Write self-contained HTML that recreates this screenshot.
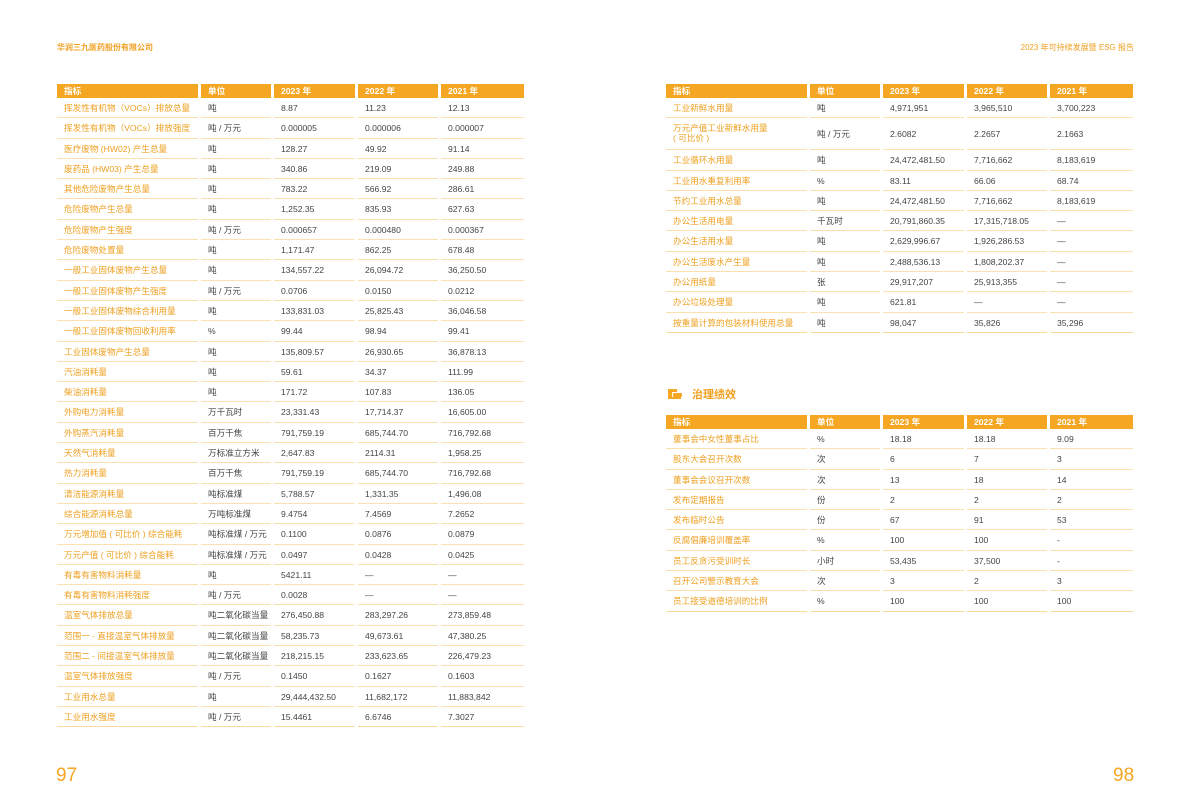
<!DOCTYPE html>
<html><head><meta charset="utf-8"><style>
body{margin:0;width:1191px;height:808px;background:#fff;position:relative;overflow:hidden;font-family:"Liberation Sans","Noto Sans CJK SC",sans-serif;}
.hd{position:absolute;top:42px;font-size:8px;color:#f0a020;}
.pn{position:absolute;top:765px;font-size:19px;color:#f5a623;}
.t{position:absolute;width:467px;}
.r{display:grid;grid-template-columns:141px 70px 81px 80px 83px;column-gap:3px;height:20.3px;}
.r>div{border-bottom:1px solid #fde0b0;font-size:8.6px;color:#444;line-height:20px;padding-left:7px;white-space:nowrap;overflow:hidden;}
.r>div:first-child{color:#eea020;}
.h{height:14px;}
.h>div{background:#f5a623;color:#fff!important;font-weight:bold;line-height:14px;border:none;}
.tall{height:32px;}
.tall>div{line-height:32px;}
.tall>div:first-child{line-height:10px;padding-top:5px;}
.last>div{border-bottom:1px solid #fdd9a0;}
</style></head><body>
<div class="hd" style="left:57px;font-weight:bold">华润三九医药股份有限公司</div>
<div class="hd" style="right:57px">2023 年可持续发展暨 ESG 报告</div>
<div class="pn" style="left:56px">97</div>
<div class="pn" style="left:1113px">98</div>

<div class="t" style="left:57px;top:84px">
<div class="r h"><div>指标</div><div>单位</div><div>2023 年</div><div>2022 年</div><div>2021 年</div></div>
<div class="r"><div>挥发性有机物（VOCs）排放总量</div><div>吨</div><div>8.87</div><div>11.23</div><div>12.13</div></div>
<div class="r"><div>挥发性有机物（VOCs）排放强度</div><div>吨 / 万元</div><div>0.000005</div><div>0.000006</div><div>0.000007</div></div>
<div class="r"><div>医疗废物 (HW02) 产生总量</div><div>吨</div><div>128.27</div><div>49.92</div><div>91.14</div></div>
<div class="r"><div>废药品 (HW03) 产生总量</div><div>吨</div><div>340.86</div><div>219.09</div><div>249.88</div></div>
<div class="r"><div>其他危险废物产生总量</div><div>吨</div><div>783.22</div><div>566.92</div><div>286.61</div></div>
<div class="r"><div>危险废物产生总量</div><div>吨</div><div>1,252.35</div><div>835.93</div><div>627.63</div></div>
<div class="r"><div>危险废物产生强度</div><div>吨 / 万元</div><div>0.000657</div><div>0.000480</div><div>0.000367</div></div>
<div class="r"><div>危险废物处置量</div><div>吨</div><div>1,171.47</div><div>862.25</div><div>678.48</div></div>
<div class="r"><div>一般工业固体废物产生总量</div><div>吨</div><div>134,557.22</div><div>26,094.72</div><div>36,250.50</div></div>
<div class="r"><div>一般工业固体废物产生强度</div><div>吨 / 万元</div><div>0.0706</div><div>0.0150</div><div>0.0212</div></div>
<div class="r"><div>一般工业固体废物综合利用量</div><div>吨</div><div>133,831.03</div><div>25,825.43</div><div>36,046.58</div></div>
<div class="r"><div>一般工业固体废物回收利用率</div><div>%</div><div>99.44</div><div>98.94</div><div>99.41</div></div>
<div class="r"><div>工业固体废物产生总量</div><div>吨</div><div>135,809.57</div><div>26,930.65</div><div>36,878.13</div></div>
<div class="r"><div>汽油消耗量</div><div>吨</div><div>59.61</div><div>34.37</div><div>111.99</div></div>
<div class="r"><div>柴油消耗量</div><div>吨</div><div>171.72</div><div>107.83</div><div>136.05</div></div>
<div class="r"><div>外购电力消耗量</div><div>万千瓦时</div><div>23,331.43</div><div>17,714.37</div><div>16,605.00</div></div>
<div class="r"><div>外购蒸汽消耗量</div><div>百万千焦</div><div>791,759.19</div><div>685,744.70</div><div>716,792.68</div></div>
<div class="r"><div>天然气消耗量</div><div>万标准立方米</div><div>2,647.83</div><div>2114.31</div><div>1,958.25</div></div>
<div class="r"><div>热力消耗量</div><div>百万千焦</div><div>791,759.19</div><div>685,744.70</div><div>716,792.68</div></div>
<div class="r"><div>清洁能源消耗量</div><div>吨标准煤</div><div>5,788.57</div><div>1,331.35</div><div>1,496.08</div></div>
<div class="r"><div>综合能源消耗总量</div><div>万吨标准煤</div><div>9.4754</div><div>7.4569</div><div>7.2652</div></div>
<div class="r"><div>万元增加值 ( 可比价 ) 综合能耗</div><div>吨标准煤 / 万元</div><div>0.1100</div><div>0.0876</div><div>0.0879</div></div>
<div class="r"><div>万元产值 ( 可比价 ) 综合能耗</div><div>吨标准煤 / 万元</div><div>0.0497</div><div>0.0428</div><div>0.0425</div></div>
<div class="r"><div>有毒有害物料消耗量</div><div>吨</div><div>5421.11</div><div>—</div><div>—</div></div>
<div class="r"><div>有毒有害物料消耗强度</div><div>吨 / 万元</div><div>0.0028</div><div>—</div><div>—</div></div>
<div class="r"><div>温室气体排放总量</div><div>吨二氧化碳当量</div><div>276,450.88</div><div>283,297.26</div><div>273,859.48</div></div>
<div class="r"><div>范围一 - 直接温室气体排放量</div><div>吨二氧化碳当量</div><div>58,235.73</div><div>49,673.61</div><div>47,380.25</div></div>
<div class="r"><div>范围二 - 间接温室气体排放量</div><div>吨二氧化碳当量</div><div>218,215.15</div><div>233,623.65</div><div>226,479.23</div></div>
<div class="r"><div>温室气体排放强度</div><div>吨 / 万元</div><div>0.1450</div><div>0.1627</div><div>0.1603</div></div>
<div class="r"><div>工业用水总量</div><div>吨</div><div>29,444,432.50</div><div>11,682,172</div><div>11,883,842</div></div>
<div class="r last"><div>工业用水强度</div><div>吨 / 万元</div><div>15.4461</div><div>6.6746</div><div>7.3027</div></div>
</div>

<div class="t" style="left:666px;top:84px">
<div class="r h"><div>指标</div><div>单位</div><div>2023 年</div><div>2022 年</div><div>2021 年</div></div>
<div class="r"><div>工业新鲜水用量</div><div>吨</div><div>4,971,951</div><div>3,965,510</div><div>3,700,223</div></div>
<div class="r tall"><div>万元产值工业新鲜水用量<br>( 可比价 )</div><div>吨 / 万元</div><div>2.6082</div><div>2.2657</div><div>2.1663</div></div>
<div class="r"><div>工业循环水用量</div><div>吨</div><div>24,472,481.50</div><div>7,716,662</div><div>8,183,619</div></div>
<div class="r"><div>工业用水重复利用率</div><div>%</div><div>83.11</div><div>66.06</div><div>68.74</div></div>
<div class="r"><div>节约工业用水总量</div><div>吨</div><div>24,472,481.50</div><div>7,716,662</div><div>8,183,619</div></div>
<div class="r"><div>办公生活用电量</div><div>千瓦时</div><div>20,791,860.35</div><div>17,315,718.05</div><div>—</div></div>
<div class="r"><div>办公生活用水量</div><div>吨</div><div>2,629,996.67</div><div>1,926,286.53</div><div>—</div></div>
<div class="r"><div>办公生活废水产生量</div><div>吨</div><div>2,488,536.13</div><div>1,808,202.37</div><div>—</div></div>
<div class="r"><div>办公用纸量</div><div>张</div><div>29,917,207</div><div>25,913,355</div><div>—</div></div>
<div class="r"><div>办公垃圾处理量</div><div>吨</div><div>621.81</div><div>—</div><div>—</div></div>
<div class="r last"><div>按重量计算的包装材料使用总量</div><div>吨</div><div>98,047</div><div>35,826</div><div>35,296</div></div>
</div>

<svg style="position:absolute;left:666px;top:388px" width="18" height="12"><path d="M2 1h9v3H6v5h9v2H2z" fill="#f5a623"/><rect x="7" y="5" width="9" height="4" rx="1" fill="#f5a623"/></svg>
<div style="position:absolute;left:692px;top:386px;font-size:11px;font-weight:bold;color:#f0a020">治理绩效</div>

<div class="t" style="left:666px;top:415px">
<div class="r h"><div>指标</div><div>单位</div><div>2023 年</div><div>2022 年</div><div>2021 年</div></div>
<div class="r"><div>董事会中女性董事占比</div><div>%</div><div>18.18</div><div>18.18</div><div>9.09</div></div>
<div class="r"><div>股东大会召开次数</div><div>次</div><div>6</div><div>7</div><div>3</div></div>
<div class="r"><div>董事会会议召开次数</div><div>次</div><div>13</div><div>18</div><div>14</div></div>
<div class="r"><div>发布定期报告</div><div>份</div><div>2</div><div>2</div><div>2</div></div>
<div class="r"><div>发布临时公告</div><div>份</div><div>67</div><div>91</div><div>53</div></div>
<div class="r"><div>反腐倡廉培训覆盖率</div><div>%</div><div>100</div><div>100</div><div>-</div></div>
<div class="r"><div>员工反贪污受训时长</div><div>小时</div><div>53,435</div><div>37,500</div><div>-</div></div>
<div class="r"><div>召开公司警示教育大会</div><div>次</div><div>3</div><div>2</div><div>3</div></div>
<div class="r last"><div>员工接受道德培训的比例</div><div>%</div><div>100</div><div>100</div><div>100</div></div>
</div>
</body></html>
